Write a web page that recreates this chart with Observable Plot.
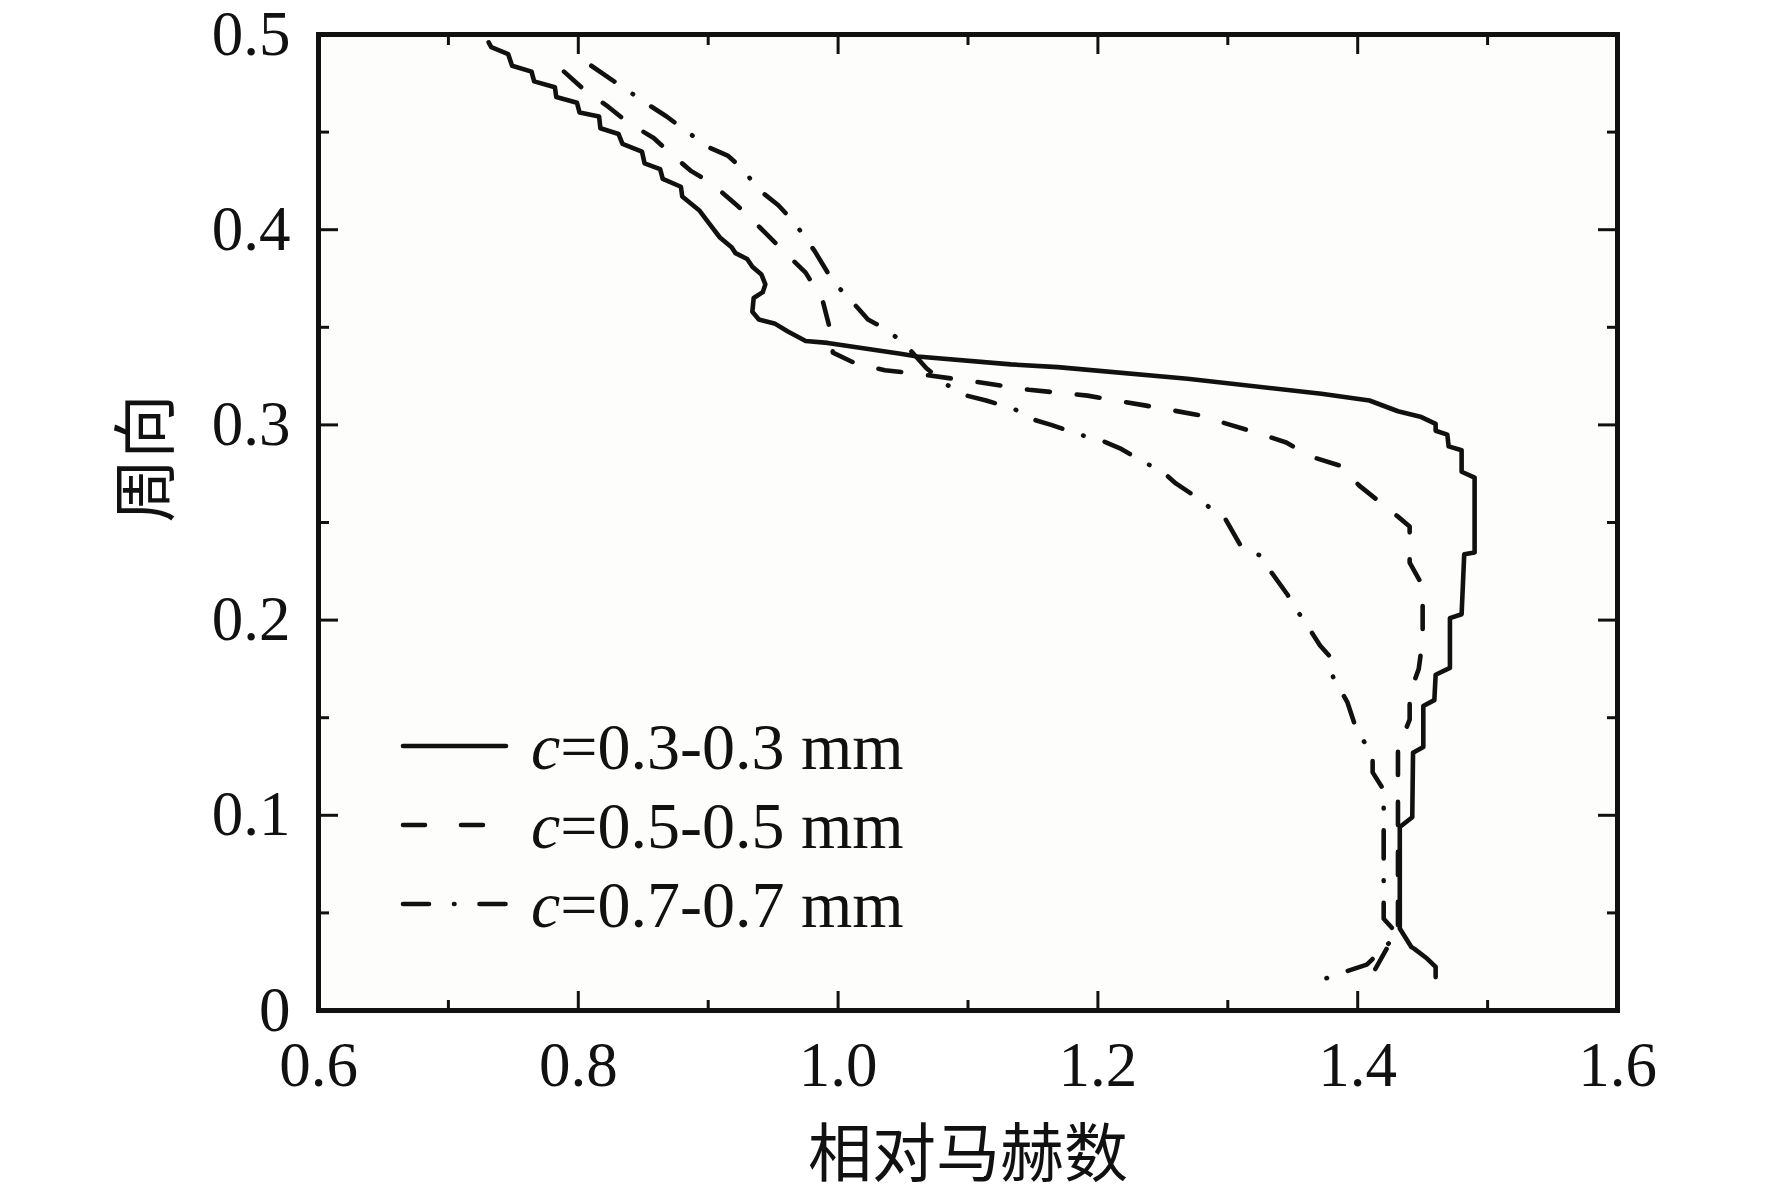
<!DOCTYPE html>
<html>
<head>
<meta charset="utf-8">
<script src="https://cdn.jsdelivr.net/npm/d3@7"></script>
<script src="https://cdn.jsdelivr.net/npm/@observablehq/plot@0.6"></script>
<style>
  html, body { margin: 0; padding: 0; background: #ffffff; }
  #wrap { position: relative; width: 1772px; height: 1198px; }
  #legend { position: absolute; left: 0; top: 0; pointer-events: none; }
</style>
</head>
<body>
<div id="wrap"></div>
<script>
// ---------- data ----------
const xTicksMajor = [0.6, 0.8, 1.0, 1.2, 1.4, 1.6];
const xTicksMinor = [0.7, 0.9, 1.1, 1.3, 1.5];
const yTicksMajor = [0, 0.1, 0.2, 0.3, 0.4, 0.5];
const yTicksMinor = [0.05, 0.15, 0.25, 0.35, 0.45];
const xLabel = "相对马赫数";
const yLabel = "周向";
const seriesNames = ["0.3-0.3 mm", "0.5-0.5 mm", "0.7-0.7 mm"];

// c = 0.3-0.3 mm (solid): [relative Mach, circumferential]
const series03 = [
  [0.731,0.496],[0.733,0.4935],[0.746,0.490],[0.749,0.484],[0.764,0.481],[0.766,0.476],
  [0.782,0.473],[0.783,0.468],[0.799,0.465],[0.801,0.460],[0.816,0.458],[0.817,0.452],
  [0.831,0.449],[0.834,0.444],[0.849,0.440],[0.851,0.434],[0.863,0.431],[0.865,0.426],
  [0.879,0.422],[0.880,0.417],[0.893,0.410],[0.901,0.403],[0.909,0.396],[0.918,0.391],
  [0.921,0.388],[0.930,0.385],[0.934,0.381],[0.941,0.377],[0.944,0.372],[0.942,0.368],
  [0.935,0.365],[0.934,0.358],[0.939,0.354],[0.951,0.352],[0.961,0.348],[0.975,0.343],
  [0.992,0.342],[1.048,0.3365],[1.061,0.335],[1.133,0.331],[1.169,0.3296],[1.269,0.3236],
  [1.372,0.316],[1.409,0.3125],[1.431,0.307],[1.449,0.304],[1.460,0.3005],[1.460,0.297],
  [1.469,0.295],[1.470,0.289],[1.480,0.287],[1.480,0.276],[1.490,0.273],[1.490,0.2346],
  [1.482,0.2337],[1.480,0.203],[1.471,0.201],[1.471,0.1755],[1.460,0.172],[1.459,0.159],
  [1.4505,0.156],[1.4505,0.135],[1.4426,0.132],[1.442,0.099],[1.4324,0.094],[1.4324,0.042],
  [1.4413,0.0325],[1.4434,0.0317],[1.4536,0.0265],[1.460,0.0223],[1.460,0.0171]
];
// c = 0.5-0.5 mm (dashed)
const series05 = [
  [0.789,0.481],[0.804,0.472],[0.823,0.463],[0.838,0.455],[0.858,0.447],[0.871,0.439],
  [0.887,0.430],[0.902,0.424],[0.923,0.412],[0.940,0.401],[0.958,0.389],[0.975,0.378],
  [0.988,0.364],[0.993,0.351],[0.996,0.337],[1.015,0.331],[1.036,0.328],[1.063,0.326],
  [1.107,0.322],[1.147,0.318],[1.192,0.315],[1.236,0.310],[1.278,0.305],[1.302,0.300],
  [1.322,0.296],[1.345,0.291],[1.363,0.284],[1.387,0.279],[1.401,0.269],[1.416,0.261],
  [1.431,0.253],[1.440,0.248],[1.440,0.2295],[1.450,0.2175],[1.450,0.190],[1.447,0.175],
  [1.440,0.162],[1.440,0.149],[1.431,0.134],[1.431,0.042],[1.410,0.017]
];
// c = 0.7-0.7 mm (dash-dot)
const series07 = [
  [0.810,0.484],[0.832,0.474],[0.854,0.464],[0.868,0.458],[0.880,0.452],[0.901,0.442],
  [0.915,0.438],[0.925,0.432],[0.940,0.420],[0.954,0.4125],[0.966,0.404],[0.982,0.389],
  [0.992,0.378],[1.001,0.370],[1.015,0.360],[1.023,0.354],[1.037,0.349],[1.052,0.341],
  [1.068,0.329],[1.087,0.319],[1.099,0.315],[1.114,0.3125],[1.136,0.308],[1.149,0.303],
  [1.164,0.300],[1.186,0.295],[1.203,0.292],[1.217,0.288],[1.238,0.280],[1.249,0.2765],
  [1.260,0.270],[1.278,0.262],[1.289,0.256],[1.298,0.252],[1.310,0.238],[1.325,0.233],
  [1.333,0.225],[1.346,0.213],[1.352,0.206],[1.359,0.1995],[1.371,0.187],[1.379,0.181],
  [1.381,0.171],[1.392,0.158],[1.400,0.142],[1.4115,0.132],[1.4115,0.122],[1.420,0.113],
  [1.420,0.047],[1.431,0.039],[1.407,0.0235],[1.391,0.020],[1.371,0.0154]
];

// ---------- styles ----------
const ink = "#111111";
const serif = "'Liberation Serif', 'Times New Roman', serif";
const cjk = "'Noto Sans CJK SC', sans-serif";
const lineW = 4.6;
const dashes = [null, "23,27", "28,22,0.5,22"];
const fmtY = d => d === 0 ? "0" : d.toFixed(1);
const fmtX = d => d.toFixed(1);
const noText = () => "";

const chart = Plot.plot({
  width: 1772,
  height: 1198,
  marginLeft: 318,
  marginRight: 155,
  marginTop: 34,
  marginBottom: 188,
  x: {domain: [0.6, 1.6]},
  y: {domain: [0, 0.5]},
  style: {fontFamily: serif, fontSize: "63px", color: ink, background: "#ffffff"},
  marks: [
    Plot.frame({fill: "#fdfdfb", stroke: null}),
    Plot.line(series03, {x: d => d[0], y: d => d[1], stroke: ink, strokeWidth: lineW, strokeLinejoin: "round", strokeLinecap: "round"}),
    Plot.line(series05, {x: d => d[0], y: d => d[1], stroke: ink, strokeWidth: lineW, strokeDasharray: dashes[1], strokeLinejoin: "round", strokeLinecap: "round"}),
    Plot.line(series07, {x: d => d[0], y: d => d[1], stroke: ink, strokeWidth: lineW, strokeDasharray: dashes[2], strokeLinejoin: "round", strokeLinecap: "round"}),
    // bottom axis
    Plot.axisX({anchor: "bottom", ticks: xTicksMajor, tickSize: -19, tickPadding: 50, tickFormat: fmtX, strokeWidth: 3, label: null, fontSize: 63}),
    Plot.axisX({anchor: "bottom", ticks: xTicksMinor, tickSize: -10, tickFormat: noText, strokeWidth: 3, label: null}),
    // top axis
    Plot.axisX({anchor: "top", ticks: xTicksMajor, tickSize: -19, tickFormat: noText, strokeWidth: 3, label: null}),
    Plot.axisX({anchor: "top", ticks: xTicksMinor, tickSize: -10, tickFormat: noText, strokeWidth: 3, label: null}),
    // left axis
    Plot.axisY({anchor: "left", ticks: yTicksMajor, tickSize: -20, tickPadding: 48, tickFormat: fmtY, strokeWidth: 3, label: null, fontSize: 63}),
    Plot.axisY({anchor: "left", ticks: yTicksMinor, tickSize: -11, tickFormat: noText, strokeWidth: 3, label: null}),
    // right axis
    Plot.axisY({anchor: "right", ticks: yTicksMajor, tickSize: -20, tickFormat: noText, strokeWidth: 3, label: null}),
    Plot.axisY({anchor: "right", ticks: yTicksMinor, tickSize: -11, tickFormat: noText, strokeWidth: 3, label: null}),
    // axis titles
    Plot.text([xLabel], {frameAnchor: "bottom", dy: 145, text: d => d, fontFamily: cjk, fontSize: 64, fill: ink, lineAnchor: "middle"}),
    Plot.text([yLabel], {frameAnchor: "left", dx: -171, text: d => d, fontFamily: cjk, fontSize: 64, fill: ink, rotate: -90, lineAnchor: "middle"}),
    Plot.frame({stroke: ink, strokeWidth: 5})
  ]
});

const wrap = document.getElementById("wrap");
wrap.appendChild(chart);

// ---------- legend overlay (inside the plot area, lower left) ----------
const legendRowsY = [746, 825, 904];
const legendDash = [null, "22,36", "26,25,0.5,25"];
const legendSvg = d3.create("svg")
  .attr("id", "legend")
  .attr("width", 1772)
  .attr("height", 1198);
seriesNames.forEach((name, i) => {
  const y = legendRowsY[i];
  legendSvg.append("line")
    .attr("x1", 403).attr("x2", i === 1 ? 486 : 506)
    .attr("y1", y).attr("y2", y)
    .attr("stroke", ink).attr("stroke-width", lineW)
    .attr("stroke-linecap", "round")
    .attr("stroke-dasharray", legendDash[i]);
  const t = legendSvg.append("text")
    .attr("x", 531).attr("y", y + 23)
    .attr("font-family", serif).attr("font-size", 66).attr("fill", ink);
  t.append("tspan").attr("font-style", "italic").text("c");
  t.append("tspan").text("=" + name);
});
wrap.appendChild(legendSvg.node());
</script>
</body>
</html>
